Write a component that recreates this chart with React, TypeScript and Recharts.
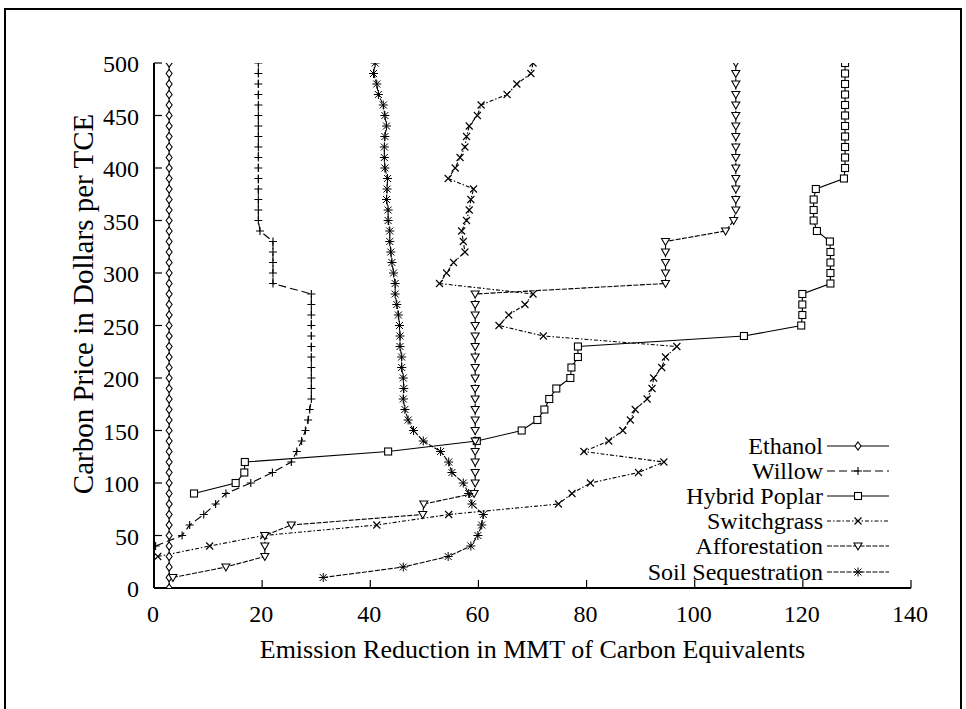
import { LineChart, Line, XAxis, YAxis, Legend } from 'recharts';

const FONT = '"Liberation Serif", "DejaVu Serif", "Times New Roman", serif';
const PLOT_L = 154;
const PLOT_B = 588;

const X_TICKS = [0, 20, 40, 60, 80, 100, 120, 140];
const Y_TICKS = [0, 50, 100, 150, 200, 250, 300, 350, 400, 450, 500];

// [emission reduction, carbon price]
const ethanol = [
  [2.8, 0], [2.8, 10], [2.8, 20], [2.8, 30], [2.8, 40], [2.8, 50], [2.8, 60], [2.8, 70], [2.8, 80], [2.8, 90],
  [2.8, 100], [2.8, 110], [2.8, 120], [2.8, 130], [2.8, 140], [2.8, 150], [2.8, 160], [2.8, 170], [2.8, 180], [2.8, 190],
  [2.8, 200], [2.8, 210], [2.8, 220], [2.8, 230], [2.8, 240], [2.8, 250], [2.8, 260], [2.8, 270], [2.8, 280], [2.8, 290],
  [2.8, 300], [2.8, 310], [2.8, 320], [2.8, 330], [2.8, 340], [2.8, 350], [2.8, 360], [2.8, 370], [2.8, 380], [2.8, 390],
  [2.8, 400], [2.8, 410], [2.8, 420], [2.8, 430], [2.8, 440], [2.8, 450], [2.8, 460], [2.8, 470], [2.8, 480], [2.8, 490],
  [2.8, 500],
];

const willow = [
  [0.3, 40], [5.2, 50], [6.6, 60], [9.2, 70], [11.4, 80], [13.3, 90], [17.9, 100], [21.9, 110], [25.4, 120], [26.4, 130],
  [27.3, 140], [28.0, 150], [28.5, 160], [28.8, 170], [29.1, 180], [29.1, 190], [29.1, 200], [29.1, 210], [29.1, 220], [29.1, 230],
  [29.1, 240], [29.1, 250], [29.1, 260], [29.1, 270], [29.1, 280], [22.0, 290], [22.0, 300], [22.0, 310], [22.0, 320], [22.0, 330],
  [19.6, 340], [19.3, 350], [19.3, 360], [19.3, 370], [19.3, 380], [19.3, 390], [19.3, 400], [19.3, 410], [19.3, 420], [19.3, 430],
  [19.3, 440], [19.3, 450], [19.3, 460], [19.3, 470], [19.3, 480], [19.3, 490], [19.3, 500],
];

const hybridPoplar = [
  [7.4, 90], [15.1, 100], [16.7, 110], [16.8, 120], [43.3, 130], [59.7, 140], [68.0, 150], [70.9, 160], [72.2, 170], [73.1, 180],
  [74.4, 190], [77.0, 200], [77.2, 210], [78.4, 220], [78.4, 230], [109.1, 240], [119.7, 250], [119.9, 260], [119.9, 270], [119.9, 280],
  [125.1, 290], [125.1, 300], [125.1, 310], [125.1, 320], [125.0, 330], [122.6, 340], [122.0, 350], [122.0, 360], [122.0, 370], [122.4, 380],
  [127.6, 390], [127.8, 400], [127.8, 410], [127.8, 420], [127.8, 430], [127.8, 440], [127.8, 450], [127.8, 460], [127.8, 470], [127.8, 480],
  [127.8, 490], [127.8, 500],
];

const switchgrass = [
  [0.7, 30], [10.3, 40], [20.3, 50], [41.2, 60], [54.5, 70], [74.8, 80], [77.3, 90], [80.7, 100], [89.6, 110], [94.3, 120],
  [79.5, 130], [84.1, 140], [86.7, 150], [88.1, 160], [89.0, 170], [91.2, 180], [92.1, 190], [92.4, 200], [93.9, 210], [94.6, 220],
  [96.7, 230], [72.0, 240], [63.8, 250], [65.6, 260], [68.6, 270], [70.1, 280], [52.8, 290], [54.1, 300], [55.4, 310], [57.5, 320],
  [57.2, 330], [56.9, 340], [57.8, 350], [58.3, 360], [58.6, 370], [59.1, 380], [54.4, 390], [55.7, 400], [56.6, 410], [57.5, 420],
  [57.8, 430], [58.3, 440], [59.8, 450], [60.5, 460], [65.3, 470], [67.1, 480], [69.7, 490], [70.1, 500],
];

const afforestation = [
  [3.5, 10], [13.3, 20], [20.5, 30], [20.5, 40], [20.5, 50], [25.4, 60], [49.7, 70], [49.9, 80], [59.2, 90], [59.4, 100],
  [59.4, 110], [59.4, 120], [59.4, 130], [59.4, 140], [59.4, 150], [59.4, 160], [59.4, 170], [59.4, 180], [59.4, 190], [59.4, 200],
  [59.4, 210], [59.4, 220], [59.4, 230], [59.4, 240], [59.4, 250], [59.4, 260], [59.4, 270], [59.4, 280], [94.6, 290], [94.6, 300],
  [94.6, 310], [94.6, 320], [94.6, 330], [105.7, 340], [107.2, 350], [107.6, 360], [107.6, 370], [107.6, 380], [107.6, 390], [107.6, 400],
  [107.6, 410], [107.6, 420], [107.6, 430], [107.6, 440], [107.6, 450], [107.6, 460], [107.6, 470], [107.6, 480], [107.6, 490], [107.6, 500],
];

const soilSequestration = [
  [31.3, 10], [46.1, 20], [54.4, 30], [58.6, 40], [59.9, 50], [60.6, 60], [60.9, 70], [58.8, 80], [58.2, 90], [57.2, 100],
  [55.1, 110], [54.5, 120], [53.0, 130], [49.8, 140], [48.0, 150], [47.0, 160], [46.4, 170], [46.1, 180], [46.2, 190], [46.1, 200],
  [45.8, 210], [45.8, 220], [45.5, 230], [45.5, 240], [45.4, 250], [45.2, 260], [44.9, 270], [44.6, 280], [44.6, 290], [44.3, 300],
  [44.0, 310], [43.8, 320], [43.6, 330], [43.6, 340], [43.3, 350], [43.3, 360], [43.0, 370], [43.1, 380], [43.2, 390], [42.7, 400],
  [42.6, 410], [42.6, 420], [42.7, 430], [43.0, 440], [42.7, 450], [42.4, 460], [41.5, 470], [41.2, 480], [40.6, 490], [40.9, 500],
];

const toPts = (a: number[][]) => a.map(([x, y]) => ({ x, y }));

const K = '#000';
const SW = 1.1;

const diamond = (cx: number, cy: number) => (
  <path d={`M${cx},${cy - 4}L${cx + 3},${cy}L${cx},${cy + 4}L${cx - 3},${cy}Z`} fill="#fff" stroke={K} strokeWidth={SW} />
);
const plus = (cx: number, cy: number) => (
  <path d={`M${cx - 4},${cy}H${cx + 4}M${cx},${cy - 4}V${cy + 4}`} stroke={K} strokeWidth={SW} fill="none" />
);
const square = (cx: number, cy: number) => (
  <rect x={cx - 3.5} y={cy - 3.5} width={7} height={7} fill="#fff" stroke={K} strokeWidth={SW} />
);
const cross = (cx: number, cy: number) => (
  <path d={`M${cx - 3.5},${cy - 3.5}L${cx + 3.5},${cy + 3.5}M${cx - 3.5},${cy + 3.5}L${cx + 3.5},${cy - 3.5}`} stroke={K} strokeWidth={SW} fill="none" />
);
const triangle = (cx: number, cy: number) => (
  <path d={`M${cx - 4},${cy - 3}L${cx + 4},${cy - 3}L${cx},${cy + 4}Z`} fill="#fff" stroke={K} strokeWidth={SW} />
);
const asterisk = (cx: number, cy: number) => (
  <path
    d={`M${cx - 4.5},${cy}H${cx + 4.5}M${cx},${cy - 4.5}V${cy + 4.5}M${cx - 3.5},${cy - 3.5}L${cx + 3.5},${cy + 3.5}M${cx - 3.5},${cy + 3.5}L${cx + 3.5},${cy - 3.5}`}
    stroke={K} strokeWidth={1} fill="none"
  />
);

const SERIES = [
  { name: 'Ethanol', data: ethanol, dash: undefined, marker: diamond },
  { name: 'Willow', data: willow, dash: '8 4', marker: plus },
  { name: 'Hybrid Poplar', data: hybridPoplar, dash: undefined, marker: square },
  { name: 'Switchgrass', data: switchgrass, dash: '4 2 1.5 2', marker: cross },
  { name: 'Afforestation', data: afforestation, dash: '5 1.5', marker: triangle },
  { name: 'Soil Sequestration', data: soilSequestration, dash: '5 1.5', marker: asterisk },
];

const YTick = (p: any) => (
  <g>
    <line x1={PLOT_L} x2={PLOT_L + 8} y1={p.y} y2={p.y} stroke={K} strokeWidth={1.2} />
    <text x={139} y={p.y} dy={9} textAnchor="end" fontFamily={FONT} fontSize={24} fill={K}>
      {p.payload.value}
    </text>
  </g>
);

const XTick = (p: any) => (
  <g>
    <line x1={p.x} x2={p.x} y1={PLOT_B} y2={PLOT_B - 8} stroke={K} strokeWidth={1.2} />
    <text x={p.x - 1} y={622} textAnchor="middle" fontFamily={FONT} fontSize={24} fill={K}>
      {p.payload.value}
    </text>
  </g>
);

const renderLegend = () => (
  <div style={{ fontFamily: FONT, fontSize: 24, color: K }}>
    {SERIES.map(s => (
      <div key={s.name} style={{ display: 'flex', alignItems: 'center', justifyContent: 'flex-end', height: 25.2 }}>
        <span style={{ lineHeight: '24px', whiteSpace: 'nowrap' }}>{s.name}</span>
        <svg width={64} height={14} style={{ marginLeft: 3 }}>
          <line x1={1} x2={63} y1={7} y2={7} stroke={K} strokeWidth={SW} strokeDasharray={s.dash} />
          {s.marker(32, 7)}
        </svg>
      </div>
    ))}
  </div>
);

export default function App() {
  return (
    <div style={{ position: 'absolute', left: 0, top: 0, width: 966, height: 709, background: '#fff', overflow: 'hidden' }}>
      <div
        style={{
          position: 'absolute', left: 4, top: 8, width: 958, height: 710,
          border: '2px solid #000', boxSizing: 'border-box',
        }}
      />
      <LineChart width={966} height={709} margin={{ top: 63, right: 55, bottom: 81, left: 0 }}>
        <XAxis
          type="number" dataKey="x" domain={[0, 140]} ticks={X_TICKS} allowDataOverflow
          height={40} tick={<XTick />} tickLine={false} axisLine={{ stroke: K, strokeWidth: 2 }}
        />
        <XAxis
          xAxisId="top" orientation="top" type="number" dataKey="x" domain={[0, 140]}
          height={0} tick={false} tickLine={false} axisLine={{ stroke: K, strokeWidth: 2 }}
        />
        <YAxis
          type="number" domain={[0, 500]} ticks={Y_TICKS} allowDataOverflow
          width={PLOT_L} tick={<YTick />} tickLine={false} axisLine={{ stroke: K, strokeWidth: 2 }}
        />
        <YAxis
          yAxisId="right" orientation="right" type="number" domain={[0, 500]}
          width={0} tick={false} tickLine={false} axisLine={{ stroke: K, strokeWidth: 2 }}
        />
        <Legend
          layout="vertical" align="center" verticalAlign="middle"
          wrapperStyle={{ left: 560, top: 433, width: 330 }}
          content={renderLegend}
        />
        {SERIES.map(s => (
          <Line
            key={s.name}
            name={s.name}
            data={toPts(s.data)}
            dataKey="y"
            type="linear"
            stroke={K}
            strokeWidth={SW}
            strokeDasharray={s.dash}
            dot={(p: any) => <g key={`${s.name}-${p.index}`}>{s.marker(p.cx, p.cy)}</g>}
            activeDot={false}
            isAnimationActive={false}
          />
        ))}
      </LineChart>
      <div
        style={{
          position: 'absolute', left: 154, width: 757, top: 635, textAlign: 'center',
          fontFamily: FONT, fontSize: 26, lineHeight: '30px', whiteSpace: 'nowrap',
        }}
      >
        Emission Reduction in MMT of Carbon Equivalents
      </div>
      <div
        style={{
          position: 'absolute', left: 83, top: 304, width: 0, height: 0,
        }}
      >
        <div
          style={{
            position: 'absolute', left: 0, top: 0, transform: 'translate(-50%, -50%) rotate(-90deg)',
            fontFamily: FONT, fontSize: 29, lineHeight: '32px', whiteSpace: 'nowrap',
          }}
        >
          Carbon Price in Dollars per TCE
        </div>
      </div>
    </div>
  );
}
